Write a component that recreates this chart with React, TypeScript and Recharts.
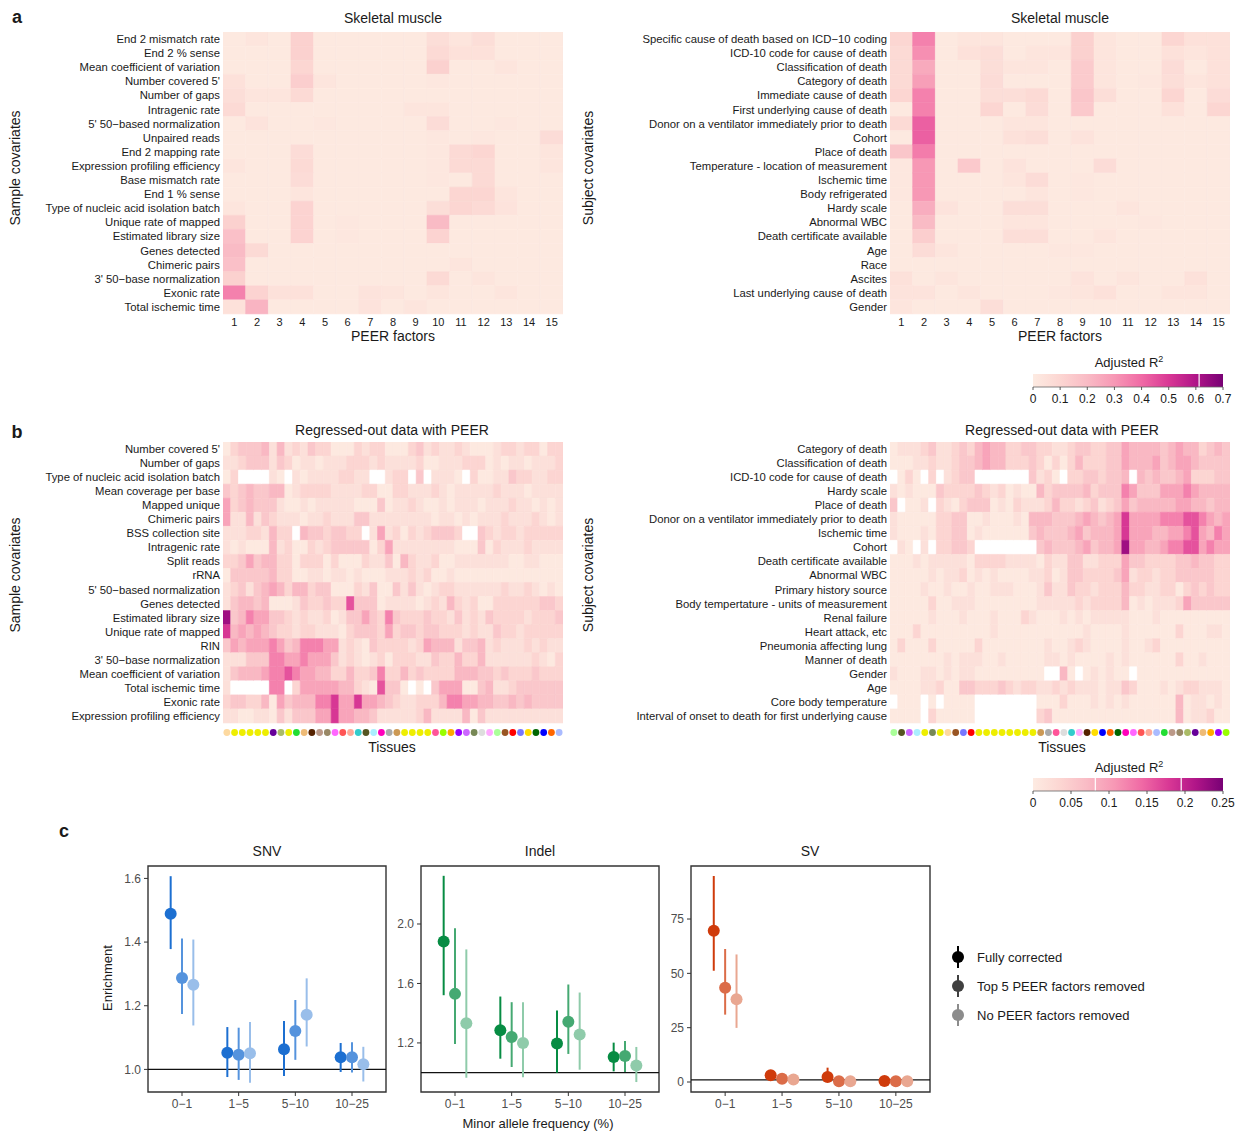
import React from 'react';
import {
  BarChart,
  Bar,
  Cell,
  XAxis,
  YAxis,
  ScatterChart,
  Scatter,
  ErrorBar,
  ReferenceLine,
  ReferenceArea,
} from 'recharts';

const FONT = '"Liberation Sans", Arial, Helvetica, sans-serif';
const INK = '#1a1a1a';

// ---------------- panel a : skeletal muscle, R2 per PEER factor ----------------
const PEER_FACTORS = ['1', '2', '3', '4', '5', '6', '7', '8', '9', '10', '11', '12', '13', '14', '15'];

const SAMPLE_A_LABELS = [
  'End 2 mismatch rate', 'End 2 % sense', 'Mean coefficient of variation', "Number covered 5'",
  'Number of gaps', 'Intragenic rate', "5' 50\u2212based normalization", 'Unpaired reads',
  'End 2 mapping rate', 'Expression profiling efficiency', 'Base mismatch rate', 'End 1 % sense',
  'Type of nucleic acid isolation batch', 'Unique rate of mapped', 'Estimated library size',
  'Genes detected', 'Chimeric pairs', "3' 50\u2212base normalization", 'Exonic rate', 'Total ischemic time',
];

const SAMPLE_A_R2 = [
  [0.01, 0.03, 0.01, 0.12, 0.01, 0.01, 0.01, 0.01, 0.01, 0.06, 0.03, 0.06, 0.01, 0.01, 0.01],
  [0.01, 0.01, 0.01, 0.12, 0.01, 0.01, 0.01, 0.01, 0.01, 0.08, 0.05, 0.05, 0.01, 0.01, 0.01],
  [0.01, 0.01, 0.01, 0.10, 0.01, 0.01, 0.01, 0.01, 0.01, 0.12, 0.01, 0.01, 0.03, 0.01, 0.01],
  [0.05, 0.01, 0.01, 0.13, 0.03, 0.01, 0.01, 0.01, 0.01, 0.02, 0.01, 0.01, 0.01, 0.01, 0.01],
  [0.06, 0.03, 0.03, 0.08, 0.01, 0.01, 0.01, 0.01, 0.01, 0.01, 0.01, 0.01, 0.01, 0.01, 0.01],
  [0.08, 0.01, 0.01, 0.01, 0.01, 0.01, 0.01, 0.01, 0.03, 0.03, 0.01, 0.01, 0.01, 0.01, 0.01],
  [0.01, 0.04, 0.01, 0.01, 0.02, 0.01, 0.01, 0.01, 0.01, 0.07, 0.01, 0.01, 0.02, 0.01, 0.01],
  [0.01, 0.01, 0.01, 0.01, 0.01, 0.01, 0.01, 0.01, 0.01, 0.02, 0.01, 0.02, 0.01, 0.01, 0.07],
  [0.01, 0.01, 0.01, 0.07, 0.01, 0.01, 0.01, 0.01, 0.01, 0.02, 0.08, 0.10, 0.01, 0.01, 0.03],
  [0.03, 0.01, 0.01, 0.08, 0.01, 0.01, 0.01, 0.01, 0.01, 0.02, 0.08, 0.08, 0.01, 0.01, 0.03],
  [0.01, 0.01, 0.01, 0.07, 0.01, 0.01, 0.01, 0.01, 0.01, 0.02, 0.01, 0.08, 0.01, 0.01, 0.01],
  [0.01, 0.01, 0.01, 0.03, 0.01, 0.01, 0.01, 0.01, 0.01, 0.01, 0.10, 0.10, 0.03, 0.01, 0.01],
  [0.03, 0.01, 0.01, 0.11, 0.01, 0.01, 0.01, 0.01, 0.01, 0.06, 0.10, 0.08, 0.04, 0.01, 0.01],
  [0.12, 0.01, 0.01, 0.11, 0.01, 0.02, 0.01, 0.01, 0.01, 0.20, 0.01, 0.01, 0.01, 0.01, 0.01],
  [0.18, 0.01, 0.01, 0.11, 0.01, 0.02, 0.01, 0.01, 0.01, 0.11, 0.01, 0.01, 0.01, 0.01, 0.01],
  [0.20, 0.08, 0.01, 0.01, 0.01, 0.01, 0.01, 0.01, 0.01, 0.01, 0.01, 0.01, 0.01, 0.01, 0.01],
  [0.18, 0.01, 0.01, 0.01, 0.01, 0.01, 0.01, 0.01, 0.01, 0.01, 0.03, 0.01, 0.01, 0.01, 0.01],
  [0.12, 0.01, 0.01, 0.01, 0.01, 0.01, 0.01, 0.01, 0.01, 0.08, 0.01, 0.03, 0.01, 0.01, 0.01],
  [0.35, 0.11, 0.05, 0.05, 0.01, 0.01, 0.04, 0.03, 0.01, 0.03, 0.01, 0.01, 0.03, 0.01, 0.01],
  [0.05, 0.22, 0.01, 0.01, 0.01, 0.01, 0.04, 0.01, 0.03, 0.01, 0.01, 0.01, 0.01, 0.01, 0.01],
];

const SUBJECT_A_LABELS = [
  'Specific cause of death based on ICD\u221210 coding', 'ICD-10 code for cause of death',
  'Classification of death', 'Category of death', 'Immediate cause of death',
  'First underlying cause of death', 'Donor on a ventilator immediately prior to death', 'Cohort',
  'Place of death', 'Temperature - location of measurement', 'Ischemic time', 'Body refrigerated',
  'Hardy scale', 'Abnormal WBC', 'Death certificate available', 'Age', 'Race', 'Ascites',
  'Last underlying cause of death', 'Gender',
];

const SUBJECT_A_R2 = [
  [0.10, 0.35, 0.01, 0.03, 0.03, 0.01, 0.01, 0.01, 0.12, 0.03, 0.01, 0.01, 0.10, 0.05, 0.05],
  [0.08, 0.32, 0.01, 0.05, 0.06, 0.01, 0.03, 0.03, 0.12, 0.03, 0.01, 0.01, 0.05, 0.03, 0.05],
  [0.08, 0.25, 0.01, 0.01, 0.06, 0.03, 0.03, 0.01, 0.14, 0.03, 0.01, 0.01, 0.07, 0.01, 0.05],
  [0.08, 0.28, 0.01, 0.01, 0.07, 0.01, 0.01, 0.01, 0.14, 0.03, 0.01, 0.02, 0.06, 0.03, 0.05],
  [0.10, 0.35, 0.01, 0.01, 0.06, 0.06, 0.08, 0.01, 0.16, 0.06, 0.01, 0.01, 0.10, 0.01, 0.07],
  [0.01, 0.35, 0.01, 0.01, 0.10, 0.01, 0.07, 0.01, 0.15, 0.01, 0.01, 0.01, 0.05, 0.01, 0.10],
  [0.08, 0.42, 0.01, 0.01, 0.01, 0.03, 0.03, 0.01, 0.01, 0.01, 0.01, 0.01, 0.01, 0.01, 0.01],
  [0.01, 0.42, 0.01, 0.01, 0.01, 0.05, 0.06, 0.01, 0.04, 0.01, 0.01, 0.01, 0.01, 0.01, 0.01],
  [0.16, 0.36, 0.01, 0.01, 0.01, 0.01, 0.01, 0.01, 0.01, 0.01, 0.01, 0.01, 0.01, 0.01, 0.01],
  [0.02, 0.30, 0.01, 0.15, 0.01, 0.04, 0.01, 0.01, 0.01, 0.07, 0.01, 0.01, 0.01, 0.01, 0.01],
  [0.02, 0.30, 0.01, 0.01, 0.01, 0.03, 0.07, 0.01, 0.02, 0.01, 0.01, 0.01, 0.01, 0.01, 0.01],
  [0.02, 0.30, 0.01, 0.01, 0.01, 0.01, 0.03, 0.01, 0.02, 0.01, 0.01, 0.01, 0.01, 0.01, 0.01],
  [0.01, 0.24, 0.04, 0.01, 0.01, 0.06, 0.06, 0.01, 0.01, 0.01, 0.03, 0.01, 0.01, 0.01, 0.01],
  [0.01, 0.20, 0.01, 0.01, 0.01, 0.03, 0.03, 0.01, 0.01, 0.01, 0.01, 0.02, 0.01, 0.01, 0.01],
  [0.01, 0.13, 0.01, 0.01, 0.01, 0.06, 0.06, 0.01, 0.01, 0.03, 0.01, 0.01, 0.01, 0.01, 0.01],
  [0.01, 0.07, 0.03, 0.01, 0.01, 0.01, 0.01, 0.02, 0.02, 0.01, 0.01, 0.01, 0.01, 0.01, 0.01],
  [0.01, 0.01, 0.01, 0.01, 0.01, 0.01, 0.01, 0.01, 0.01, 0.01, 0.01, 0.01, 0.01, 0.01, 0.01],
  [0.05, 0.01, 0.03, 0.01, 0.01, 0.01, 0.01, 0.01, 0.04, 0.01, 0.03, 0.01, 0.01, 0.05, 0.01],
  [0.04, 0.04, 0.01, 0.03, 0.01, 0.01, 0.01, 0.02, 0.03, 0.05, 0.01, 0.01, 0.03, 0.03, 0.01],
  [0.03, 0.01, 0.01, 0.01, 0.06, 0.01, 0.01, 0.01, 0.01, 0.01, 0.01, 0.01, 0.01, 0.01, 0.01],
];

// ---------------- panel b : regressed-out data, R2 per tissue ----------------
// each character is a shade (index into SHADE_R2), '-' = no value
const SHADE_R2 = [0.004, 0.018, 0.037, 0.055, 0.075, 0.095, 0.125, 0.16, 0.18, 0.225];

const SAMPLE_B_LABELS = [
  "Number covered 5'", 'Number of gaps', 'Type of nucleic acid isolation batch', 'Mean coverage per base',
  'Mapped unique', 'Chimeric pairs', 'BSS collection site', 'Intragenic rate', 'Split reads', 'rRNA',
  "5' 50\u2212based normalization", 'Genes detected', 'Estimated library size', 'Unique rate of mapped',
  'RIN', "3' 50\u2212base normalization", 'Mean coefficient of variation', 'Total ischemic time',
  'Exonic rate', 'Expression profiling efficiency',
];

const SAMPLE_B_SHADES = [
  '0233341412 1322000212 2000231211 2100012212 2022',
  '1123331320 1101112221 2111120011 1222010110 1112',
  '02----10-1 011112211- -122-3-111 0-20011322 1122',
  '3234334401 2222111122 0022111210 1111121110 1111',
  '5234333100 1011111000 3011210010 1110111211 0101',
  '5114132111 0112111331 1111111011 0101112111 2101',
  '111221422- 43323322-1 5120212333 2--3212212 2222',
  '1010004120 0212333330 2511111111 0003021112 1111',
  '2235344220 2220200021 1304211200 1111111001 1000',
  '0333334220 0110110100 0111212001 0000000000 0000',
  '1231345424 4233000213 0031310122 1111112112 1010',
  '1344340001 3223227333 0111101214 2120022222 2332',
  '9346553321 2112013353 2632223221 3121322221 2223',
  '8454543221 2211102333 2523323322 2121132212 2222',
  '3545556534 6665512103 2222125444 1334121112 1211',
  '1113336655 6555312101 2022211322 4224111111 2102',
  '1344456676 5544224223 6224232222 4443323222 3222',
  '1-----66-2 5555544210 7330-0-355 5003411233 3333',
  '2332240534 4466855855 4321122246 6554433434 3333',
  '1100110313 3355855443 1111124111 1403111111 1111',
];

const SUBJECT_B_LABELS = [
  'Category of death', 'Classification of death', 'ICD-10 code for cause of death', 'Hardy scale',
  'Place of death', 'Donor on a ventilator immediately prior to death', 'Ischemic time', 'Cohort',
  'Death certificate available', 'Abnormal WBC', 'Primary history source',
  'Body tempertature - units of measurement', 'Renal failure', 'Heart attack, etc',
  'Pneumonia affecting lung', 'Manner of death', 'Gender', 'Age', 'Core body temperature',
  'Interval of onset to death for first underlying cause',
];

const SUBJECT_B_SHADES = [
  '0111231123 2454422332 2112332233 5444434544 2343',
  '0001121123 3454422232 0202422233 5444534554 3333',
  '-020-2-123 3-------31 20-2233233 4-43433452 2233',
  '1010003222 2321201004 2333342333 6533355565 4444',
  '3-001-2102 3330102111 2422123123 5344444554 4344',
  '1000002233 0010001044 4333454345 8555566677 6545',
  '1000102233 0100000034 3334534445 8555445567 5465',
  '-10-1-2233 2--------3 4333453445 9554456677 5655',
  '0001011111 0222211110 2113311222 5332222334 3322',
  '0000010112 0101000011 2013322223 5122122333 3322',
  '0000100100 1001110001 3113221222 4221122023 2322',
  '0000020011 1000000001 1111212222 4010111253 3333',
  '0000010001 0001000210 0010101111 1000100000 0000',
  '0002000000 0001000000 0000010000 1000000200 0110',
  '0200020000 0200000000 1001210000 1001200000 0000',
  '0000000101 1100100000 1101000010 1000000200 1000',
  '1000110101 1000000000 --40-01010 0-00000000 0000',
  '0000112003 3222321221 1212111011 3200010122 1110',
  '-000-0-000 0--------0 0020001010 1000000401 1010',
  '0000-20000 0--------2 3000000000 0000000401 1200',
];

const SAMPLE_B_TISSUE_COLORS = [
  '#fdd9a0', '#eeee00', '#eeee00', '#eeee00', '#eeee00', '#eeee00', '#660099', '#aabb66', '#eeee00', '#22dd33',
  '#eebb77', '#552200', '#bb9988', '#998866', '#ff66ff', '#ff5555', '#ffaa99', '#33cccc', '#555522', '#aaeeff',
  '#ff00bb', '#aaaaaa', '#cc9955', '#eeee00', '#eeee00', '#eeee00', '#eeee00', '#ff5599', '#99ff00', '#ffaa00',
  '#9900ff', '#cc66ff', '#778855', '#dddddd', '#ffaaff', '#aaff99', '#995522', '#ff0000', '#7777ff', '#ffdd00',
  '#006600', '#0000ff', '#ff6600', '#aabbff',
];

const SUBJECT_B_TISSUE_COLORS = [
  '#aaff99', '#555522', '#cc66ff', '#aaeeff', '#eeee00', '#778855', '#eeee00', '#fdd9a0', '#995522', '#7777ff',
  '#ff0000', '#eeee00', '#eeee00', '#eeee00', '#eeee00', '#eeee00', '#eeee00', '#eeee00', '#eeee00', '#cc9955',
  '#aaaaaa', '#ff5599', '#dddddd', '#33cccc', '#ffaaff', '#552200', '#ffdd00', '#0000ff', '#ff6600', '#006600',
  '#ff00bb', '#ff66ff', '#ff5555', '#ffaa99', '#aabbff', '#22dd33', '#bb9988', '#998866', '#aabb66', '#660099',
  '#eebb77', '#ffaa00', '#9900ff', '#99ff00',
];

// ---------------- panel c : enrichment, [estimate, low, high] per MAF bin ----------------
const MAF_BINS = ['0\u22121', '1\u22125', '5\u221210', '10\u221225'];

const SNV_FULL = [[1.489, 1.378, 1.607], [1.052, 0.976, 1.133], [1.063, 0.979, 1.152], [1.038, 0.992, 1.083]];
const SNV_TOP5 = [[1.287, 1.174, 1.411], [1.046, 0.967, 1.131], [1.121, 1.030, 1.218], [1.038, 0.990, 1.085]];
const SNV_NONE = [[1.266, 1.138, 1.408], [1.051, 0.958, 1.149], [1.172, 1.072, 1.286], [1.016, 0.962, 1.071]];

const INDEL_FULL = [[1.883, 1.521, 2.324], [1.285, 1.094, 1.512], [1.196, 1.000, 1.418], [1.106, 1.009, 1.202]];
const INDEL_TOP5 = [[1.530, 1.193, 1.971], [1.240, 1.038, 1.474], [1.342, 1.126, 1.593], [1.112, 1.004, 1.213]];
const INDEL_NONE = [[1.333, 0.966, 1.829], [1.200, 0.970, 1.474], [1.256, 1.020, 1.539], [1.049, 0.937, 1.173]];

const SV_FULL = [[69.6, 51.2, 94.8], [3.1, 1.2, 4.9], [2.3, 0.5, 6.6], [0.5, -0.9, 2.3]];
const SV_TOP5 = [[43.4, 31.0, 61.2], [1.5, -0.5, 3.8], [0.3, -0.9, 1.8], [0.3, -0.9, 1.5]];
const SV_NONE = [[38.1, 24.9, 58.7], [1.2, -0.8, 3.4], [0.3, -0.9, 1.5], [0.3, -0.9, 1.5]];

// ---------------- helpers ----------------
const RAMP = ['#fdebe2', '#fcd6d2', '#f9bbc5', '#f798b5', '#f06aa5', '#d93895', '#b01588', '#780175'];

const hexRgb = (c: string) => [1, 3, 5].map((i) => parseInt(c.slice(i, i + 2), 16));

function ramp(f: number) {
  const t = Math.max(0, Math.min(1, f)) * (RAMP.length - 1);
  const i = Math.min(RAMP.length - 2, Math.floor(t));
  const a = hexRgb(RAMP[i]);
  const b = hexRgb(RAMP[i + 1]);
  const u = t - i;
  return `rgb(${a.map((v, k) => Math.round(v + (b[k] - v) * u)).join(',')})`;
}

// mix a colour with white (ggplot alpha on a white page)
function fade(c: string, alpha: number) {
  const rgb = hexRgb(c);
  return `rgb(${rgb.map((v) => Math.round(255 - (255 - v) * alpha)).join(',')})`;
}

const parseShades = (rows: string[]) =>
  rows.map((r) => r.replace(/ /g, '').split('').map((ch) => (ch === '-' ? null : SHADE_R2[Number(ch)])));

function Txt({ x, y, size = 14, rot = false, bold = false, color = INK, children }: any) {
  return (
    <div
      style={{
        position: 'absolute',
        left: x,
        top: y,
        transform: `translate(-50%, -50%)${rot ? ' rotate(-90deg)' : ''}`,
        fontSize: size,
        fontWeight: bold ? 700 : 400,
        color,
        whiteSpace: 'nowrap',
        lineHeight: 1,
      }}
    >
      {children}
    </div>
  );
}

// row labels are drawn as single-line text (no wrapping)
const rowLabel = (p: any) => (
  <text x={p.x} y={p.y} dy="0.355em" textAnchor="end" fontSize={11.3} fill={INK} fontFamily={FONT}>
    {p.payload.value}
  </text>
);

function Heatmap({ left, top, axisW, plotW, plotH, axisH, labels, cells, max, xLabels, dots }: any) {
  const ncol = cells[0].length;
  const keys = cells[0].map((_: any, j: number) => `c${j}`);
  const centers = keys.map((_: any, j: number) => j + 0.5);
  const data = labels.map((name: string) => {
    const row: any = { name };
    keys.forEach((k: string) => (row[k] = 1));
    return row;
  });

  const dotTick = (p: any) => {
    const idx = Math.round(p.payload.value - 0.5);
    return <circle key={`d${idx}`} cx={p.x} cy={p.y + 9.5} r={3.4} fill={dots[idx]} />;
  };

  return (
    <div style={{ position: 'absolute', left, top }}>
      <BarChart
        layout="vertical"
        width={axisW + plotW}
        height={plotH + axisH}
        data={data}
        margin={{ top: 0, right: 0, bottom: 0, left: 0 }}
        barCategoryGap={0}
      >
        <XAxis
          type="number"
          domain={[0, ncol]}
          allowDataOverflow
          ticks={centers}
          interval={0}
          tickLine={false}
          axisLine={false}
          tickSize={0}
          tickMargin={dots ? 0 : 4}
          height={axisH}
          tick={dots ? dotTick : { fontSize: 11, fill: INK }}
          tickFormatter={(v: number) => (xLabels ? xLabels[Math.round(v - 0.5)] : '')}
        />
        <YAxis
          type="category"
          dataKey="name"
          width={axisW}
          interval={0}
          tickLine={false}
          axisLine={false}
          tickSize={0}
          tickMargin={3}
          tick={rowLabel}
        />
        {keys.map((k: string, j: number) => (
          <Bar key={k} dataKey={k} stackId="h" isAnimationActive={false}>
            {cells.map((row: any[], i: number) => {
              const fill = row[j] == null ? '#ffffff' : ramp(row[j] / max);
              return <Cell key={i} fill={fill} stroke={fill} strokeWidth={0.6} />;
            })}
          </Bar>
        ))}
      </BarChart>
    </div>
  );
}

function ColorBar({ top, max, breaks, marks, id }: any) {
  const x0 = 13;
  const w = 190;
  const h = 13;
  const px = (v: number) => x0 + (v / max) * w;
  return (
    <svg style={{ position: 'absolute', left: 1020, top }} width={219} height={34}>
      <defs>
        <linearGradient id={id} x1="0" x2="1" y1="0" y2="0">
          {RAMP.map((c, i) => (
            <stop key={i} offset={i / (RAMP.length - 1)} stopColor={c} />
          ))}
        </linearGradient>
      </defs>
      <rect x={x0} y={0} width={w} height={h} fill={`url(#${id})`} />
      {marks.map((m: number) => (
        <line key={m} x1={px(m)} x2={px(m)} y1={0} y2={h} stroke="#fff" strokeWidth={1.2} />
      ))}
      <line x1={x0} x2={x0 + w} y1={h} y2={h} stroke="#666" strokeWidth={0.8} />
      {breaks.map((b: number) => (
        <g key={b}>
          <line x1={px(b)} x2={px(b)} y1={h} y2={h + 3} stroke="#333" strokeWidth={0.8} />
          <text x={px(b)} y={h + 16} textAnchor="middle" fontSize={12} fill={INK} fontFamily={FONT}>
            {String(b)}
          </text>
        </g>
      ))}
    </svg>
  );
}

const DODGE = [-0.2, 0, 0.2];
const ALPHA = [1, 0.75, 0.45];

function Enrichment({ boxLeft, boxW, domain, ticks, fmt, color, groups }: any) {
  const yW = 40;
  const boxTop = 866;
  const boxH = 226;
  return (
    <div style={{ position: 'absolute', left: boxLeft - yW, top: boxTop - 5 }}>
      <ScatterChart width={yW + boxW + 6} height={5 + boxH + 26} margin={{ top: 5, right: 6, bottom: 0, left: 0 }}>
        <XAxis
          type="number"
          dataKey="x"
          domain={[0.4, 4.6]}
          allowDataOverflow
          ticks={[1, 2, 3, 4]}
          interval={0}
          tickFormatter={(v: number) => MAF_BINS[v - 1]}
          axisLine={false}
          tickLine={{ stroke: '#333' }}
          tickSize={4}
          tickMargin={3}
          height={26}
          tick={{ fontSize: 12, fill: '#4d4d4d' }}
        />
        <YAxis
          type="number"
          dataKey="y"
          domain={domain}
          allowDataOverflow
          ticks={ticks}
          interval={0}
          tickFormatter={fmt}
          axisLine={false}
          tickLine={{ stroke: '#333' }}
          tickSize={4}
          tickMargin={3}
          width={yW}
          tick={{ fontSize: 12, fill: '#4d4d4d' }}
        />
        <ReferenceLine y={1} stroke="#111" strokeWidth={1.4} />
        {groups.map((g: number[][], gi: number) => {
          const c = fade(color, ALPHA[gi]);
          const data = g.map((d, i) => ({ x: i + 1 + DODGE[gi], y: d[0], err: [d[0] - d[1], d[2] - d[0]] }));
          return (
            <Scatter
              key={gi}
              data={data}
              fill={c}
              isAnimationActive={false}
              shape={(p: any) => <circle cx={p.cx} cy={p.cy} r={6} fill={c} />}
            >
              <ErrorBar dataKey="err" direction="y" width={0} stroke={c} strokeWidth={2} />
            </Scatter>
          );
        })}
        <ReferenceArea
          x1={0.4}
          x2={4.6}
          y1={domain[0]}
          y2={domain[1]}
          fill="none"
          fillOpacity={0}
          stroke="#333"
          strokeWidth={1.4}
          ifOverflow="visible"
        />
      </ScatterChart>
    </div>
  );
}

export default function App() {
  const sampleB = parseShades(SAMPLE_B_SHADES);
  const subjectB = parseShades(SUBJECT_B_SHADES);

  return (
    <div
      style={{
        position: 'absolute',
        left: 0,
        top: 0,
        width: 1239,
        height: 1132,
        background: '#fff',
        fontFamily: FONT,
        color: INK,
        overflow: 'hidden',
      }}
    >
      {/* ---- a ---- */}
      <Txt x={17} y={17} size={18} bold>a</Txt>
      <Txt x={393} y={18}>Skeletal muscle</Txt>
      <Txt x={1060} y={18}>Skeletal muscle</Txt>
      <Txt x={15} y={168} rot>Sample covariates</Txt>
      <Txt x={588} y={168} rot>Subject covariates</Txt>
      <Heatmap
        left={0} top={32} axisW={223} plotW={340} plotH={282} axisH={16}
        labels={SAMPLE_A_LABELS} cells={SAMPLE_A_R2} max={0.7} xLabels={PEER_FACTORS}
      />
      <Heatmap
        left={600} top={32} axisW={290} plotW={340} plotH={282} axisH={16}
        labels={SUBJECT_A_LABELS} cells={SUBJECT_A_R2} max={0.7} xLabels={PEER_FACTORS}
      />
      <Txt x={393} y={336}>PEER factors</Txt>
      <Txt x={1060} y={336}>PEER factors</Txt>
      <Txt x={1129} y={362} size={13}>
        Adjusted R<sup style={{ fontSize: 9 }}>2</sup>
      </Txt>
      <ColorBar id="gradA" top={374} max={0.7} breaks={[0, 0.1, 0.2, 0.3, 0.4, 0.5, 0.6, 0.7]} marks={[0.612]} />

      {/* ---- b ---- */}
      <Txt x={17} y={432} size={18} bold>b</Txt>
      <Txt x={392} y={430}>Regressed-out data with PEER</Txt>
      <Txt x={1062} y={430}>Regressed-out data with PEER</Txt>
      <Txt x={15} y={575} rot>Sample covariates</Txt>
      <Txt x={588} y={575} rot>Subject covariates</Txt>
      <Heatmap
        left={0} top={442} axisW={223} plotW={340} plotH={281} axisH={16}
        labels={SAMPLE_B_LABELS} cells={sampleB} max={0.25} dots={SAMPLE_B_TISSUE_COLORS}
      />
      <Heatmap
        left={600} top={442} axisW={290} plotW={340} plotH={281} axisH={16}
        labels={SUBJECT_B_LABELS} cells={subjectB} max={0.25} dots={SUBJECT_B_TISSUE_COLORS}
      />
      <Txt x={392} y={747}>Tissues</Txt>
      <Txt x={1062} y={747}>Tissues</Txt>
      <Txt x={1129} y={767} size={13}>
        Adjusted R<sup style={{ fontSize: 9 }}>2</sup>
      </Txt>
      <ColorBar id="gradB" top={778} max={0.25} breaks={[0, 0.05, 0.1, 0.15, 0.2, 0.25]} marks={[0.082, 0.195]} />

      {/* ---- c ---- */}
      <Txt x={64} y={831} size={18} bold>c</Txt>
      <Txt x={267} y={851}>SNV</Txt>
      <Txt x={540} y={851}>Indel</Txt>
      <Txt x={810} y={851}>SV</Txt>
      <Txt x={107} y={978} size={13} rot>Enrichment</Txt>
      <Enrichment
        boxLeft={148} boxW={238} domain={[0.929, 1.639]} ticks={[1.0, 1.2, 1.4, 1.6]}
        fmt={(v: number) => v.toFixed(1)} color="#1c6fd1" groups={[SNV_FULL, SNV_TOP5, SNV_NONE]}
      />
      <Enrichment
        boxLeft={421} boxW={238} domain={[0.87, 2.39]} ticks={[1.2, 1.6, 2.0]}
        fmt={(v: number) => v.toFixed(1)} color="#078c43" groups={[INDEL_FULL, INDEL_TOP5, INDEL_NONE]}
      />
      <Enrichment
        boxLeft={691} boxW={239} domain={[-4.6, 99.4]} ticks={[0, 25, 50, 75]}
        fmt={(v: number) => String(v)} color="#cf3b0b" groups={[SV_FULL, SV_TOP5, SV_NONE]}
      />
      <Txt x={538} y={1123} size={13}>Minor allele frequency (%)</Txt>

      <svg style={{ position: 'absolute', left: 945, top: 940 }} width={30} height={92}>
        {ALPHA.map((a, i) => (
          <g key={i}>
            <line x1={13} x2={13} y1={17 + i * 29 - 11} y2={17 + i * 29 + 11} stroke={fade('#000000', a)} strokeWidth={2} />
            <circle cx={13} cy={17 + i * 29} r={6} fill={fade('#000000', a)} />
          </g>
        ))}
      </svg>
      <div style={{ position: 'absolute', left: 977, top: 943, fontSize: 13, lineHeight: '29px' }}>
        <div>Fully corrected</div>
        <div>Top 5 PEER factors removed</div>
        <div>No PEER factors removed</div>
      </div>
    </div>
  );
}
